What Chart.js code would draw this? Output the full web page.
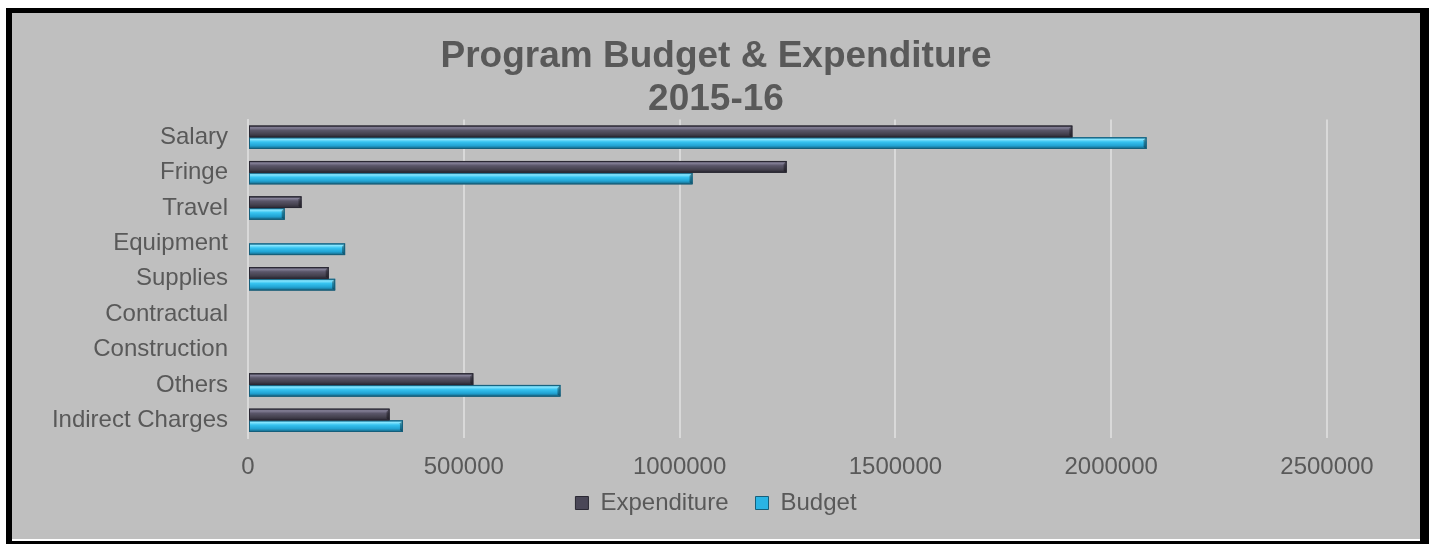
<!DOCTYPE html>
<html>
<head>
<meta charset="utf-8">
<script src="https://cdn.jsdelivr.net/npm/chart.js@4.4.1/dist/chart.umd.min.js"></script>
<style>
  html, body { margin: 0; padding: 0; background: #fff; }
  #frame { position: absolute; left: 6px; top: 8px; width: 1423px; height: 536px; background: #000; }
  #panel { position: absolute; left: 6px; top: 5px; width: 1408px; height: 526px;
           background: #bfbfbf; border-bottom: 2px solid #fff; }
</style>
</head>
<body>
<div id="frame">
  <div id="panel"><canvas id="budgetChart"></canvas></div>
</div>
<script>
// categories and values
const categories = ['Salary', 'Fringe', 'Travel', 'Equipment', 'Supplies',
  'Contractual', 'Construction', 'Others', 'Indirect Charges'];
const expenditure = [1910000, 1248000, 124000, 0, 187000, 0, 0, 522000, 328000];
const budget = [2082000, 1030000, 85000, 225000, 202000, 0, 0, 724000, 359000];
const xTicks = [0, 500000, 1000000, 1500000, 2000000, 2500000];

const TEXT = '#595959';
const FONT = 'Arial, "Liberation Sans", sans-serif';

// glossy bevel look drawn on top of the library's bar elements
const bevelBars = {
  id: 'bevelBars',
  beforeDatasetDraw(chart) {
    const ctx = chart.ctx;
    ctx.save();
    ctx.shadowColor = 'rgba(0,0,0,0.35)';
    ctx.shadowBlur = 3;
    ctx.shadowOffsetY = 2;
  },
  afterDatasetDraw(chart, args) {
    const ctx = chart.ctx;
    ctx.restore();
    const meta = args.meta;
    const stops = meta.index === 0
      ? ['#34323f', '#858198', '#5a5669', '#45424f', '#2a2833']
      : ['#1f86ad', '#86e6ff', '#36c3f0', '#21a3d3', '#165f7b'];
    meta.data.forEach(bar => {
      const { x, y, base, height } = bar.getProps(['x', 'y', 'base', 'height'], true);
      if (x - base < 1) return;
      const top = y - height / 2;
      const g = ctx.createLinearGradient(0, top, 0, top + height);
      g.addColorStop(0, stops[0]);
      g.addColorStop(0.18, stops[1]);
      g.addColorStop(0.4, stops[2]);
      g.addColorStop(0.72, stops[3]);
      g.addColorStop(1, stops[4]);
      ctx.save();
      ctx.fillStyle = g;
      ctx.fillRect(base, top, x - base, height);
      // darker bevelled end
      ctx.beginPath();
      ctx.moveTo(x, top);
      ctx.lineTo(x - 3, top + 3);
      ctx.lineTo(x - 3, top + height - 2);
      ctx.lineTo(x, top + height);
      ctx.closePath();
      ctx.fillStyle = 'rgba(0,0,0,0.35)';
      ctx.fill();
      ctx.strokeStyle = stops[4];
      ctx.lineWidth = 1;
      ctx.strokeRect(base + 0.5, top + 0.5, x - base - 1, height - 1);
      ctx.restore();
    });
  }
};

const ctx = document.getElementById('budgetChart').getContext('2d');
new Chart(ctx, {
  type: 'bar',
  data: {
    labels: categories,
    datasets: [
      {
        label: 'Expenditure',
        data: expenditure,
        backgroundColor: '#4a4757',
        borderColor: '#2a2833',
        borderWidth: 1,
        categoryPercentage: 0.66,
        barPercentage: 1.0,
      },
      {
        label: 'Budget',
        data: budget,
        backgroundColor: '#2ab4e4',
        borderColor: '#165f7b',
        borderWidth: 1,
        categoryPercentage: 0.66,
        barPercentage: 1.0,
      },
    ],
  },
  options: {
    indexAxis: 'y',
    responsive: true,
    maintainAspectRatio: false,
    animation: false,
    layout: { padding: { top: 22, left: 0, right: 0, bottom: 14 } },
    plugins: {
      title: {
        display: true,
        text: ['Program Budget & Expenditure', '2015-16'],
        color: TEXT,
        font: { family: FONT, size: 37, weight: 'bold', lineHeight: 1.17 },
        padding: { top: 0, bottom: -2 },
      },
      legend: {
        position: 'bottom',
        labels: {
          color: TEXT,
          font: { family: FONT, size: 24 },
          boxWidth: 13,
          boxHeight: 13,
          padding: 7,
          generateLabels(chart) {
            const items = Chart.defaults.plugins.legend.labels.generateLabels(chart);
            items[0].text += '   ';
            return items;
          },
        },
      },
      tooltip: { enabled: false },
    },
    scales: {
      x: {
        min: 0,
        max: 2500000,
        afterBuildTicks(axis) { axis.ticks = xTicks.map(v => ({ value: v })); },
        afterFit(axis) { axis.paddingRight = 93; axis.height = 46; },
        grid: { color: '#d9d9d9', lineWidth: 2, drawTicks: false },
        border: { display: false },
        ticks: {
          color: TEXT,
          font: { family: FONT, size: 24 },
          padding: 15,
          callback: v => String(v),
        },
      },
      y: {
        afterFit(axis) { axis.width = 236; },
        grid: { display: false },
        border: { color: '#d9d9d9', width: 2 },
        ticks: { color: TEXT, font: { family: FONT, size: 24 }, padding: 12 },
      },
    },
  },
  plugins: [bevelBars],
});
</script>
</body>
</html>
